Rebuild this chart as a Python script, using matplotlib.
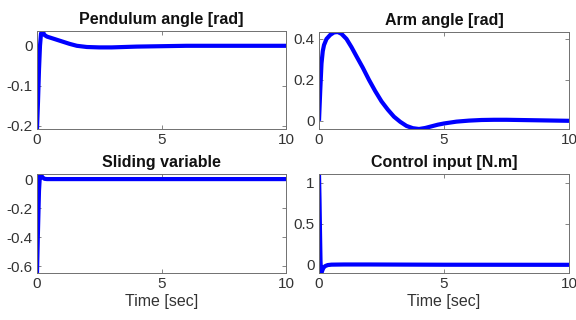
import matplotlib
matplotlib.use("Agg")
import matplotlib.pyplot as plt

plt.rcParams['font.family'] = ['Liberation Sans', 'DejaVu Sans']
plt.rcParams['axes.unicode_minus'] = False

# Pendulum angle [rad]
t_pend = [0, 0.04, 0.08, 0.12, 0.16, 0.2, 0.25, 0.3, 0.4, 0.5, 0.7, 1.0, 1.3, 1.6, 2.0,
          2.5, 3.0, 3.5, 4.0, 5.0, 6.0, 7.0, 8.0, 9.0, 10.0]
y_pend = [-0.208, -0.14, -0.06, 0.0, 0.03, 0.037, 0.033, 0.027, 0.023, 0.021, 0.017,
          0.011, 0.005, 0.0, -0.003, -0.004, -0.004, -0.003, -0.002, -0.001, 0.0, 0.0,
          0.0, 0.0, 0.0]

# Arm angle [rad]
t_arm = [0, 0.05, 0.1, 0.15, 0.2, 0.3, 0.45, 0.6, 0.75, 0.9, 1.1, 1.3, 1.5, 1.75, 2.0,
         2.25, 2.5, 2.75, 3.0, 3.25, 3.5, 3.75, 4.0, 4.25, 4.5, 4.75, 5.0, 5.5, 6.0,
         6.5, 7.0, 7.5, 8.0, 8.5, 9.0, 9.5, 10.0]
y_arm = [0.0, 0.15, 0.28, 0.34, 0.37, 0.40, 0.42, 0.432, 0.434, 0.425, 0.40, 0.36,
         0.315, 0.26, 0.20, 0.145, 0.095, 0.055, 0.02, -0.005, -0.025, -0.036, -0.04,
         -0.035, -0.027, -0.019, -0.013, -0.004, 0.001, 0.004, 0.005, 0.005, 0.004,
         0.003, 0.002, 0.001, 0.0]

# Sliding variable
t_slide = [0, 0.04, 0.08, 0.12, 0.16, 0.22, 0.3, 0.4, 1.0, 10.0]
y_slide = [-0.645, -0.35, -0.08, 0.035, 0.03, 0.012, 0.002, 0.0, 0.0, 0.0]

# Control input [N.m]
t_ctrl = [0, 0.02, 0.04, 0.06, 0.08, 0.1, 0.13, 0.18, 0.25, 0.35, 0.5, 1.0, 2.0, 3.0,
          5.0, 10.0]
y_ctrl = [1.11, 0.8, 0.4, 0.05, -0.09, -0.1, -0.07, -0.035, -0.015, -0.003, 0.002,
          0.004, 0.004, 0.003, 0.001, 0.0]

titles = ["Pendulum angle [rad]", "Arm angle [rad]", "Sliding variable", "Control input [N.m]"]
series = [(t_pend, y_pend), (t_arm, y_arm), (t_slide, y_slide), (t_ctrl, y_ctrl)]
yticks = [[-0.2, -0.1, 0], [0, 0.2, 0.4], [-0.6, -0.4, -0.2, 0], [0, 0.5, 1]]
yticklabels = [["-0.2", "-0.1", "0"], ["0", "0.2", "0.4"],
               ["-0.6", "-0.4", "-0.2", "0"], ["0", "0.5", "1"]]
xticks = [0, 5, 10]
xticklabels = ["0", "5", "10"]

W, H = 576, 320
rects_px = [(37, 31, 286, 129), (319, 32, 569, 129), (37, 174, 286, 273), (319, 174, 569, 273)]

fig = plt.figure(figsize=(W / 100, H / 100), dpi=100)
for i, (l, t, r, b) in enumerate(rects_px):
    ax = fig.add_axes([l / W, 1 - b / H, (r - l) / W, (b - t) / H])
    x, y = series[i]
    ax.plot(x, y, color=(0, 0, 1), lw=3, solid_joinstyle='round', solid_capstyle='butt')
    ax.set_xlim(0, 10)
    ax.set_ylim(min(y), max(y))
    ax.set_xticks(xticks)
    ax.set_xticklabels(xticklabels)
    ax.set_yticks(yticks[i])
    ax.set_yticklabels(yticklabels[i])
    ax.tick_params(direction='in', length=3, width=0.6, top=True, right=True,
                   labelsize=11, color='#707070', labelcolor='#333333', pad=3)
    for s in ax.spines.values():
        s.set_color('#707070')
        s.set_linewidth(0.7)
    ax.set_title(titles[i], fontsize=11.5, fontweight='bold', pad=5, color='#111111')
    if i >= 2:
        ax.set_xlabel("Time [sec]", fontsize=11.5, color='#333333', labelpad=2)

fig.savefig("out.png", dpi=100)
